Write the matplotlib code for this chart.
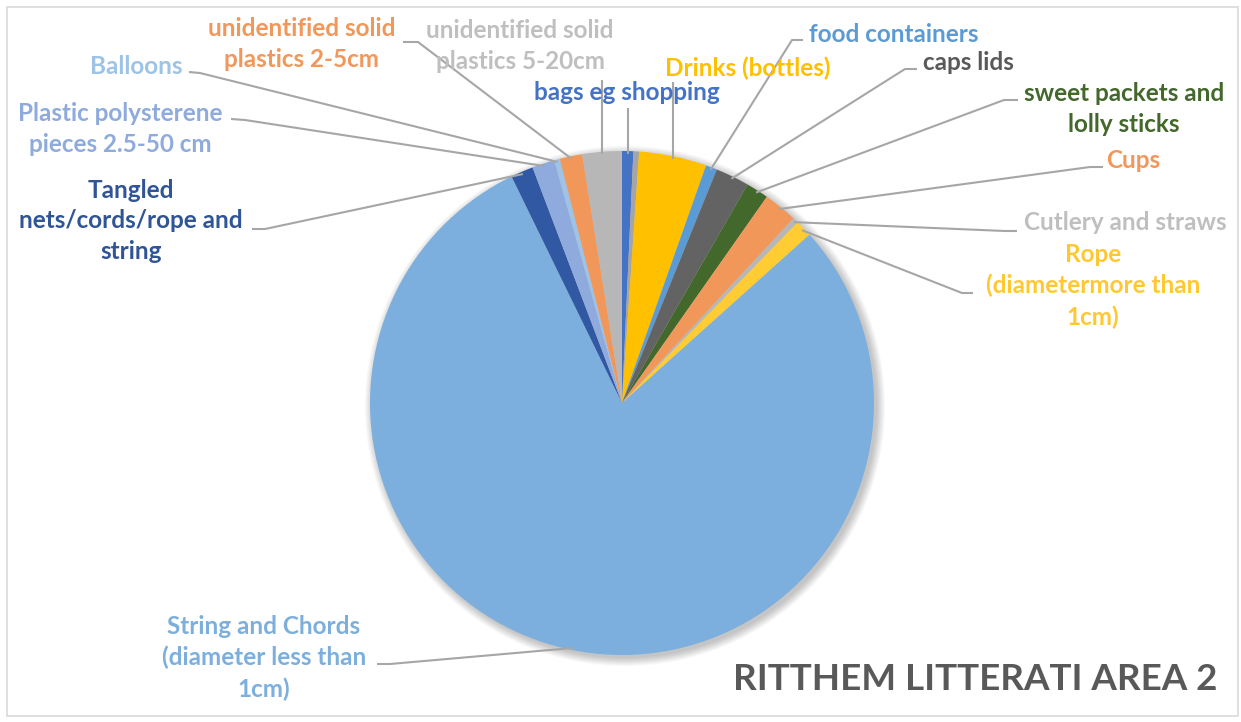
import numpy as np
import matplotlib.pyplot as plt
from matplotlib.patches import Circle, Rectangle

# slice data, clockwise from 12 o'clock
categories = ['bags eg shopping', '', 'Drinks (bottles)', 'food containers', 'caps lids',
              'sweet packets and\nlolly sticks', 'Cups', 'Cutlery and straws',
              'Rope\n(diametermore than\n1cm)', 'String and Chords\n(diameter less than\n1cm)',
              'Tangled\nnets/cords/rope and\nstring', 'Plastic polysterene\npieces 2.5-50 cm',
              'Balloons', 'unidentified solid\nplastics 2-5cm', 'unidentified solid\nplastics 5-20cm']
counts = [2, 1, 12, 2, 6, 4, 6, 1, 3, 220, 4, 4, 1, 4, 7]
title = 'RITTHEM LITTERATI AREA 2'

colors = ['#4472C4', '#A5A5A5', '#FFC000', '#5B9BD5', '#636363', '#43682B', '#F1975A',
          '#B7B7B7', '#FFCD33', '#7CAFDD', '#3158A3', '#8FAADC', '#9DC3E6', '#F1975A', '#B7B7B7']
text_colors = ['#4472C4', None, '#FFC000', '#5B9BD5', '#595959', '#43682B', '#F1975A',
               '#BFBFBF', '#FFC832', '#7CAFDD', '#2F5597', '#8FAADC', '#9DC3E6', '#F1975A', '#BFBFBF']

# label layout in pixel coords: text centre, line anchor at label, knee of the elbow
text_pos = [(627, 92), None, (748, 68), (894, 34), (968, 62), (1124, 109), (1133, 160),
            (1125, 223), (1093, 286), (264, 658), (131, 221), (120, 129), (136, 66),
            (302, 44), (520, 46)]
anchors = [(628, 108), None, (672, 82), (803, 40), (917, 69), (1018, 100), (1103, 167),
           (1017, 231), (973, 293), (377, 664), (252, 229), (231, 119), (189, 72),
           (403, 42), (603, 80)]
knees = [None, None, None, (792, 40), (905, 69), (1004, 100), (1090, 167),
         (1005, 231), (962, 293), (390, 664), (265, 229), (245, 120), (200, 73),
         (418, 42), None]

W, H = 1241, 722
cx, cy, R = 622, 403, 252


def py(y):
    return H - y


fig = plt.figure(figsize=(12.41, 7.22), dpi=100)
ax = fig.add_axes([0, 0, 1, 1])
ax.set_xlim(0, W)
ax.set_ylim(0, H)
ax.set_aspect('equal')
ax.axis('off')

ax.add_patch(Rectangle((7, py(716)), 1231, 709, fill=False, ec='#D9D9D9', lw=1.2))

# soft shadow
for i in range(10):
    ax.add_patch(Circle((cx + 3, py(cy) - 3), R + i * 0.9, color='black', alpha=0.025, lw=0, zorder=1))

wedges, _ = ax.pie(counts, colors=colors, startangle=90, counterclock=False,
                   center=(cx, py(cy)), radius=R, frame=True,
                   wedgeprops=dict(linewidth=0, zorder=2))
ax.set_xlim(0, W)
ax.set_ylim(0, H)
ax.axis('off')

for w, lab, tc, tp, an, kn in zip(wedges, categories, text_colors, text_pos, anchors, knees):
    if not lab:
        continue
    mid = np.deg2rad((w.theta1 + w.theta2) / 2)
    sx = cx + R * 0.99 * np.cos(mid)
    sy = py(cy) + R * 0.99 * np.sin(mid)
    if kn is None:
        xs = [sx, sx]
        ys = [sy, py(an[1])]
    else:
        xs = [sx, kn[0], an[0]]
        ys = [sy, py(kn[1]), py(an[1])]
    ax.plot(xs, ys, color='#A6A6A6', lw=1.5, zorder=3, solid_capstyle='butt')
    ax.text(tp[0], py(tp[1]), lab, color=tc, fontsize=17.5, fontfamily='Lato', fontweight='bold',
            ha='center', va='center', linespacing=1.42, zorder=4)

ax.text(975, py(679), title, color='#595959', fontsize=26.5, fontfamily='Lato',
        fontweight='bold', ha='center', va='center')

fig.savefig('out.png', dpi=100)
